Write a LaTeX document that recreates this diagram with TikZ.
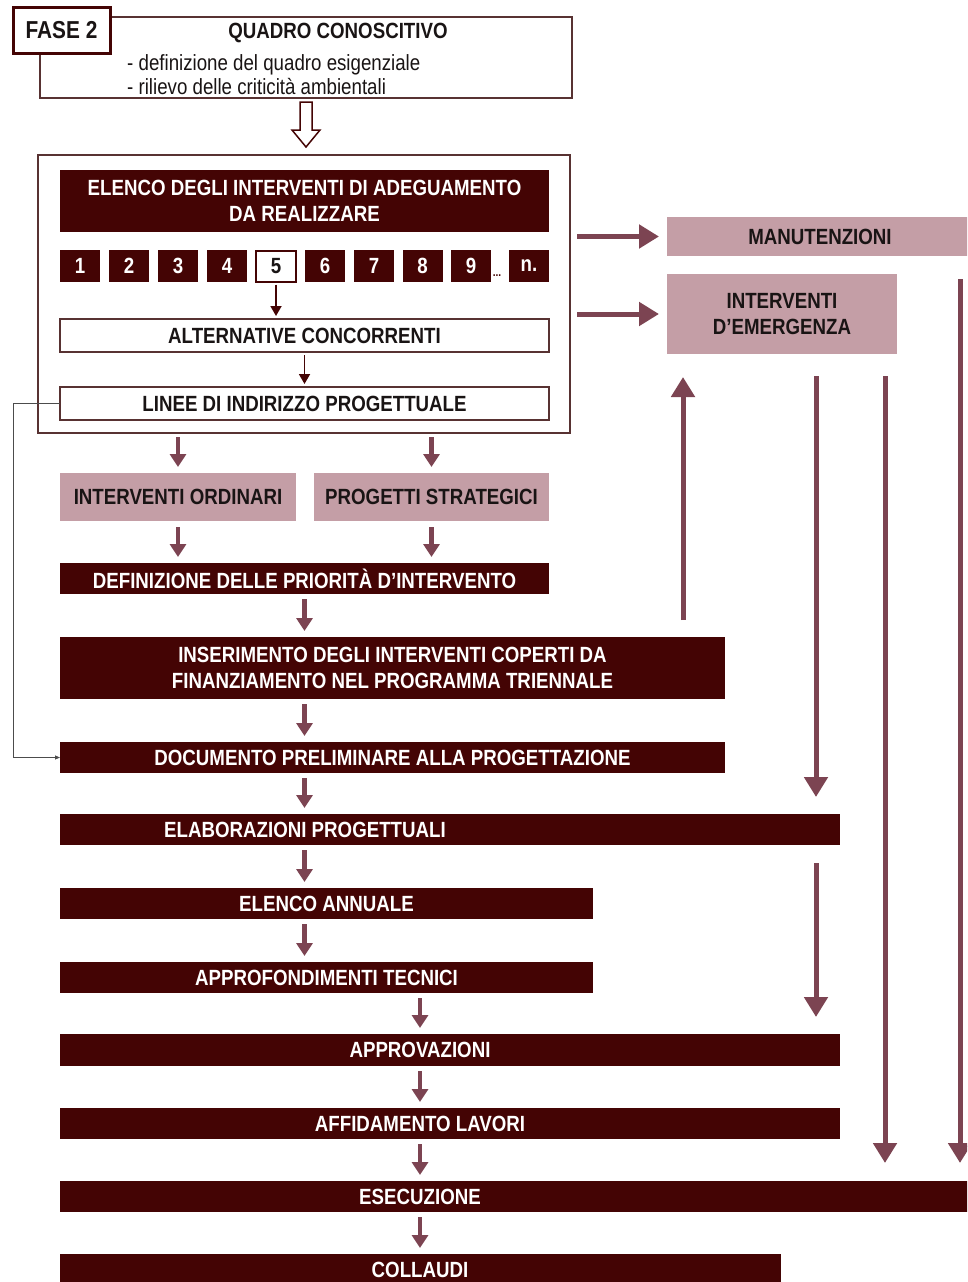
\documentclass[tikz,border=0pt]{standalone}
\usepackage{fontspec}
\setmainfont{Liberation Sans}[FakeStretch=0.85]
\usetikzlibrary{arrows.meta,calc}
\definecolor{maroon}{RGB}{68,4,4}
\definecolor{rose}{RGB}{196,158,166}
\definecolor{mauve}{RGB}{124,68,82}
\definecolor{edge}{RGB}{88,50,50}
\definecolor{ink}{RGB}{25,20,20}
\begin{document}
\begin{tikzpicture}[x=1pt,y=-1pt,
  bx/.style={inner sep=0pt, outer sep=0pt, font=\bfseries\fontsize{22}{26}\selectfont, align=center},
  darkbox/.style={bx, fill=maroon, text=white},
  rosebox/.style={bx, fill=rose, text=ink},
  linebox/.style={bx, fill=white, draw=edge, line width=1.3pt, text=ink},
  numbox/.style={darkbox, minimum width=40pt, minimum height=32pt},
  boxtext/.style={bx, text=white},
  flow/.style={draw=mauve, line width=4.5pt, -{Triangle[length=13pt,width=16pt]}},
  longflow/.style={draw=mauve, line width=5pt, -{Triangle[length=20pt,width=23pt]}},
  pointer/.style={draw=maroon, line width=1.8pt, -{Triangle[length=10pt,width=11pt]}},
  feedback/.style={draw=black!70, line width=0.8pt, -{Triangle[length=5pt,width=4pt]}}
]
\useasboundingbox (0,0) rectangle (967,1282);
\clip (0,0) rectangle (967,1282);

% ---- heading block
\node[bx, draw=edge, line width=1.3pt, fill=white, minimum width=532pt, minimum height=81pt] (quadro) at (306,57.5) {};
\node[bx, draw=maroon, line width=3pt, fill=white, text=ink, minimum width=97pt, minimum height=46pt,
      font=\bfseries\fontsize{24.5}{28}\selectfont] (fase) at (61.5,30) {FASE 2};
\node[bx, text=ink] (quadroT) at (338,33) {QUADRO CONOSCITIVO};
\node[inner sep=0pt, anchor=west, align=left, text=ink, font=\fontsize{22}{24}\selectfont] (quadroL) at (127,75)
  {- definizione del quadro esigenziale\\- rilievo delle criticità ambientali};

% ---- list of works block
\node[bx, draw=edge, line width=2pt, fill=white, minimum width=532pt, minimum height=278pt] (big) at (304,294) {};
\node[darkbox, minimum width=489pt, minimum height=62pt] (elenco) at (304.5,201)
  {ELENCO DEGLI INTERVENTI DI ADEGUAMENTO\\DA REALIZZARE};
\foreach \cx/\t/\nm in {80/1/n1, 129/2/n2, 178/3/n3, 227/4/n4, 325/6/n6, 374/7/n7, 422.5/8/n8, 471/9/n9, 529/n./nn}
  \node[numbox] (\nm) at (\cx,266) {\t};
\node[linebox, draw=maroon, line width=2pt, minimum width=40pt, minimum height=31pt] (n5) at (276,266) {5};
\node[inner sep=0pt, text=maroon, font=\bfseries\fontsize{12}{12}\selectfont] (dots) at (497,276) {...};
\node[linebox, minimum width=489pt, minimum height=33pt] (alt) at (304.5,335.5) {ALTERNATIVE CONCORRENTI};
\node[linebox, minimum width=489pt, minimum height=33pt] (linee) at (304.5,403.5) {LINEE DI INDIRIZZO PROGETTUALE};

% open arrow between the two blocks
\draw[maroon, line width=1.5pt, fill=white]
  ($(quadro.south)+(-6,4)$) -- ++(0,28) -- ++(-8,0) -- ++(14,17) -- ++(14,-17) -- ++(-8,0) -- ++(0,-28) -- cycle;

% ---- side boxes
\node[rosebox, minimum width=333pt, minimum height=39pt] (manut) at (833.5,236.5) {};
\node[bx, text=ink] (manutT) at (820,237) {MANUTENZIONI};
\node[rosebox, minimum width=230pt, minimum height=80pt] (emerg) at (782,314) {INTERVENTI\\D’EMERGENZA};

% ---- process chain
\node[rosebox, minimum width=236pt, minimum height=48pt] (ordinari) at (178,497) {INTERVENTI ORDINARI};
\node[rosebox, minimum width=235pt, minimum height=48pt] (strategici) at (431.5,497) {PROGETTI STRATEGICI};
\node[darkbox, minimum width=489pt, minimum height=31pt] (defin) at (304.5,578.5) {DEFINIZIONE DELLE PRIORITÀ D'INTERVENTO};
\node[darkbox, minimum width=665pt, minimum height=62pt] (ins) at (392.5,668)
  {INSERIMENTO DEGLI INTERVENTI COPERTI DA\\FINANZIAMENTO NEL PROGRAMMA TRIENNALE};
\node[darkbox, minimum width=665pt, minimum height=31pt] (doc) at (392.5,757.5) {DOCUMENTO PRELIMINARE ALLA PROGETTAZIONE};
\node[darkbox, minimum width=780pt, minimum height=31pt] (elab) at (450,829.5) {};
\node[boxtext] (elabT) at (305,829.5) {ELABORAZIONI PROGETTUALI};
\node[darkbox, minimum width=533pt, minimum height=31pt] (annuale) at (326.5,903.5) {ELENCO ANNUALE};
\node[darkbox, minimum width=533pt, minimum height=31pt] (approf) at (326.5,977.5) {APPROFONDIMENTI TECNICI};
\node[darkbox, minimum width=780pt, minimum height=32pt] (approv) at (450,1050) {};
\node[boxtext] (approvT) at (420,1050) {APPROVAZIONI};
\node[darkbox, minimum width=780pt, minimum height=31pt] (affid) at (450,1123.5) {};
\node[boxtext] (affidT) at (420,1123.5) {AFFIDAMENTO LAVORI};
\node[darkbox, minimum width=940pt, minimum height=31pt] (esec) at (530,1196.5) {};
\node[boxtext] (esecT) at (420,1196.5) {ESECUZIONE};
\node[darkbox, minimum width=721pt, minimum height=40pt] (coll) at (420.5,1274) {};
\node[boxtext] (collT) at (420,1270) {COLLAUDI};

% ---- connectors inside the list block
\draw[pointer, shorten <=3pt, shorten >=3pt] (n5.south) -- (n5.south |- alt.north);
\draw[pointer, shorten <=3pt, shorten >=3pt] (alt.south) -- (linee.north);

% ---- main chain arrows
\draw[flow, shorten <=4pt, shorten >=6pt] (big.south -| ordinari.north) -- (ordinari.north);
\draw[flow, shorten <=4pt, shorten >=6pt] (big.south -| strategici.north) -- (strategici.north);
\draw[flow, shorten <=6pt, shorten >=6pt] (ordinari.south) -- (ordinari.south |- defin.north);
\draw[flow, shorten <=6pt, shorten >=6pt] (strategici.south) -- (strategici.south |- defin.north);
\draw[flow, shorten <=5pt, shorten >=6pt] (defin.south) -- (defin.south |- ins.north);
\draw[flow, shorten <=5pt, shorten >=6pt] (ins.south -| defin.south) -- (doc.north -| defin.south);
\draw[flow, shorten <=5pt, shorten >=6pt] (doc.south -| defin.south) -- (elab.north -| defin.south);
\draw[flow, shorten <=5pt, shorten >=6pt] (elab.south -| defin.south) -- (annuale.north -| defin.south);
\draw[flow, shorten <=5pt, shorten >=6pt] (annuale.south -| defin.south) -- (approf.north -| defin.south);
\draw[flow, shorten <=5pt, shorten >=6pt] (approf.south -| approvT.south) -- (approv.north -| approvT.south);
\draw[flow, shorten <=5pt, shorten >=6pt] (approv.south -| approvT.south) -- (affid.north -| approvT.south);
\draw[flow, shorten <=5pt, shorten >=6pt] (affid.south -| approvT.south) -- (esec.north -| approvT.south);
\draw[flow, shorten <=5pt, shorten >=6pt] (esec.south -| approvT.south) -- (coll.north -| approvT.south);

% ---- side arrows
\draw[longflow, shorten <=7pt, shorten >=8pt] (big.east |- manut.west) -- (manut.west);
\draw[longflow, shorten <=7pt, shorten >=8pt] (big.east |- emerg.west) -- (emerg.west);
\coordinate (upx) at ([xshift=16pt]emerg.south west);
\coordinate (d1) at ([xshift=149pt]emerg.south west);
\coordinate (d2) at ([xshift=218pt]emerg.south west);
\coordinate (d3) at ([xshift=293pt]manut.south west);
\draw[longflow, shorten <=17pt, shorten >=23pt] (ins.north -| upx) -- (upx);
\draw[longflow, shorten <=22pt, shorten >=17pt] (d1) -- (d1 |- elab.north);
\draw[longflow, shorten <=18pt, shorten >=17pt] (elab.south -| d1) -- (approv.north -| d1);
\draw[longflow, shorten <=22pt, shorten >=18pt] (d2) -- (d2 |- esec.north);
\draw[longflow, shorten <=23pt, shorten >=18pt] (d3) -- (d3 |- esec.north);

% ---- guideline feeding the preliminary document
\draw[feedback] (linee.west) -- ++(-47,0) |- (doc.west);
\end{tikzpicture}
\end{document}
